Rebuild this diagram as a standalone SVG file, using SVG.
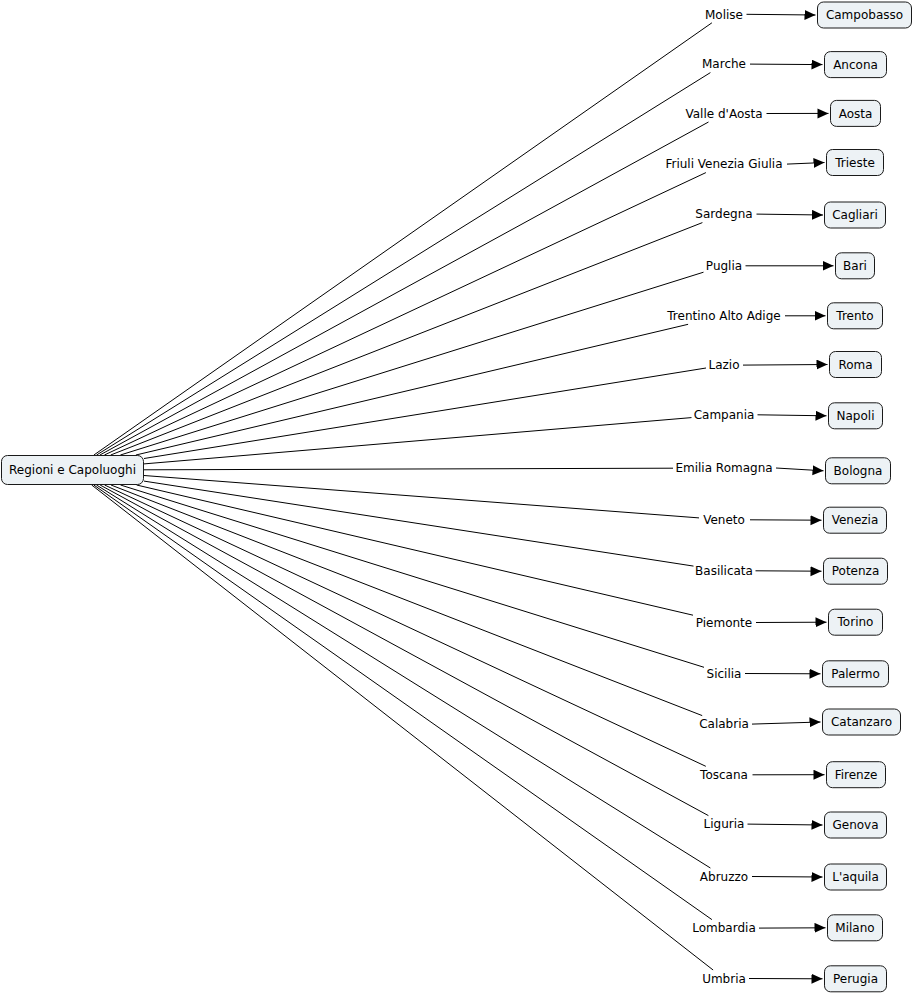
<svg xmlns="http://www.w3.org/2000/svg" width="913" height="994" viewBox="0 0 913 994">
<style>
.bg{fill:#ffffff}
.node rect{fill:#edf2f5;stroke:#1a1a1a;stroke-width:1}
.node text{font-family:"DejaVu Sans",Verdana,sans-serif;font-size:12px;fill:#000;text-anchor:middle}
.lbl{font-family:"DejaVu Sans",Verdana,sans-serif;font-size:12px;fill:#000;text-anchor:middle}
.ln{stroke:#000;stroke-width:1;fill:none}
.ar{stroke:#000;stroke-width:1;fill:none;marker-end:url(#ah)}
</style>
<defs>
<marker id="ah" markerUnits="userSpaceOnUse" markerWidth="12" markerHeight="11" refX="11" refY="5" orient="auto">
<path d="M0,0 L11,5 L0,10 z" fill="#000"/>
</marker>
</defs>
<rect class="bg" x="0" y="0" width="913" height="994"/>
<g id="connectors">
<line class="ln" x1="93.9" y1="455" x2="711.9" y2="22.8"/>
<line class="ln" x1="96.6" y1="455" x2="710.4" y2="72.6"/>
<line class="ln" x1="99.9" y1="455" x2="708.5" y2="122"/>
<line class="ln" x1="104.4" y1="455" x2="705.9" y2="172.6"/>
<line class="ln" x1="110.7" y1="455" x2="702.4" y2="222.6"/>
<line class="ln" x1="120.4" y1="455" x2="703.5" y2="272.2"/>
<line class="ln" x1="135.9" y1="455" x2="688.1" y2="324.3"/>
<line class="ln" x1="144" y1="458.5" x2="706" y2="368"/>
<line class="ln" x1="144" y1="463.9" x2="691.5" y2="417.6"/>
<line class="ln" x1="144" y1="469.8" x2="673" y2="468.2"/>
<line class="ln" x1="144" y1="475.5" x2="699" y2="517.9"/>
<line class="ln" x1="144" y1="481.1" x2="693.5" y2="566.1"/>
<line class="ln" x1="136.6" y1="485" x2="693" y2="615.2"/>
<line class="ln" x1="120.5" y1="485" x2="704" y2="667.3"/>
<line class="ln" x1="111" y1="485" x2="702.2" y2="715.6"/>
<line class="ln" x1="104.6" y1="485" x2="705.8" y2="766.3"/>
<line class="ln" x1="100.1" y1="485" x2="708.4" y2="815.6"/>
<line class="ln" x1="96.5" y1="485" x2="710.4" y2="868"/>
<line class="ln" x1="93.8" y1="485" x2="711.9" y2="919.6"/>
<line class="ln" x1="91.7" y1="485" x2="713.1" y2="970"/>
<line class="ar" x1="746.5" y1="14.3" x2="815.5" y2="15"/>
<line class="ar" x1="750" y1="64.1" x2="822.5" y2="64.6"/>
<line class="ar" x1="766.5" y1="113.5" x2="828.5" y2="113.4"/>
<line class="ar" x1="787" y1="164.1" x2="824.5" y2="162.5"/>
<line class="ar" x1="756.5" y1="214.1" x2="823" y2="215"/>
<line class="ar" x1="745.5" y1="265.8" x2="833.5" y2="265.8"/>
<line class="ar" x1="785" y1="315.8" x2="825.5" y2="315.8"/>
<line class="ar" x1="743" y1="365.1" x2="827.5" y2="364.5"/>
<line class="ar" x1="757.5" y1="414.8" x2="826.5" y2="415.8"/>
<line class="ar" x1="776" y1="468" x2="823.5" y2="470.8"/>
<line class="ar" x1="750" y1="519.8" x2="821.5" y2="520.2"/>
<line class="ar" x1="755.5" y1="570.8" x2="821.5" y2="571.2"/>
<line class="ar" x1="756" y1="622.5" x2="826.5" y2="622.2"/>
<line class="ar" x1="745" y1="673.5" x2="820.5" y2="673.8"/>
<line class="ar" x1="752" y1="724.1" x2="820.5" y2="722"/>
<line class="ar" x1="752.5" y1="774.8" x2="824.5" y2="774.7"/>
<line class="ar" x1="747.5" y1="824.1" x2="822.5" y2="825"/>
<line class="ar" x1="752" y1="876.5" x2="822.5" y2="877"/>
<line class="ar" x1="759" y1="928.1" x2="825.5" y2="927.8"/>
<line class="ar" x1="749" y1="978.5" x2="822.5" y2="978.8"/>
</g>
<g id="labels">
<text class="lbl" x="724" y="18.5">Molise</text>
<text class="lbl" x="724" y="68.3">Marche</text>
<text class="lbl" x="724" y="117.7">Valle d'Aosta</text>
<text class="lbl" x="724" y="168.3">Friuli Venezia Giulia</text>
<text class="lbl" x="724" y="218.3">Sardegna</text>
<text class="lbl" x="724" y="270">Puglia</text>
<text class="lbl" x="724" y="320">Trentino Alto Adige</text>
<text class="lbl" x="724" y="369.3">Lazio</text>
<text class="lbl" x="724" y="419">Campania</text>
<text class="lbl" x="724" y="472.2">Emilia Romagna</text>
<text class="lbl" x="724" y="524">Veneto</text>
<text class="lbl" x="724" y="575">Basilicata</text>
<text class="lbl" x="724" y="626.7">Piemonte</text>
<text class="lbl" x="724" y="677.7">Sicilia</text>
<text class="lbl" x="724" y="728.3">Calabria</text>
<text class="lbl" x="724" y="779">Toscana</text>
<text class="lbl" x="724" y="828.3">Liguria</text>
<text class="lbl" x="724" y="880.7">Abruzzo</text>
<text class="lbl" x="724" y="932.3">Lombardia</text>
<text class="lbl" x="724" y="982.7">Umbria</text>
</g>
<g id="root" class="node"><rect x="1.5" y="455.5" width="142" height="29" rx="6"/><text x="72.5" y="474.3">Regioni e Capoluoghi</text></g>
<g id="n-campobasso" class="node"><rect x="817.5" y="2" width="94" height="26" rx="6"/><text x="864.5" y="19.2">Campobasso</text></g>
<g id="n-ancona" class="node"><rect x="824.5" y="51.6" width="62" height="26" rx="6"/><text x="855.5" y="68.8">Ancona</text></g>
<g id="n-aosta" class="node"><rect x="830.5" y="100.4" width="50" height="26" rx="6"/><text x="855.5" y="117.6">Aosta</text></g>
<g id="n-trieste" class="node"><rect x="826.5" y="149.5" width="57" height="26" rx="6"/><text x="855" y="166.7">Trieste</text></g>
<g id="n-cagliari" class="node"><rect x="824.5" y="202" width="61" height="26" rx="6"/><text x="855" y="219.2">Cagliari</text></g>
<g id="n-bari" class="node"><rect x="835.5" y="252.8" width="39" height="26" rx="6"/><text x="855" y="270">Bari</text></g>
<g id="n-trento" class="node"><rect x="827.5" y="302.8" width="55" height="26" rx="6"/><text x="855" y="320">Trento</text></g>
<g id="n-roma" class="node"><rect x="829.5" y="351.5" width="52" height="26" rx="6"/><text x="855.5" y="368.7">Roma</text></g>
<g id="n-napoli" class="node"><rect x="828.5" y="402.8" width="54" height="26" rx="6"/><text x="855.5" y="420">Napoli</text></g>
<g id="n-bologna" class="node"><rect x="825.5" y="457.8" width="65" height="26" rx="6"/><text x="858" y="475">Bologna</text></g>
<g id="n-venezia" class="node"><rect x="823.5" y="507.2" width="63" height="26" rx="6"/><text x="855" y="524.4">Venezia</text></g>
<g id="n-potenza" class="node"><rect x="823.5" y="558.2" width="64" height="26" rx="6"/><text x="855.5" y="575.4">Potenza</text></g>
<g id="n-torino" class="node"><rect x="828.5" y="609.2" width="54" height="26" rx="6"/><text x="855.5" y="626.4">Torino</text></g>
<g id="n-palermo" class="node"><rect x="822.5" y="660.8" width="66" height="26" rx="6"/><text x="855.5" y="678">Palermo</text></g>
<g id="n-catanzaro" class="node"><rect x="822.5" y="709" width="78" height="26" rx="6"/><text x="861.5" y="726.2">Catanzaro</text></g>
<g id="n-firenze" class="node"><rect x="826.5" y="761.7" width="59" height="26" rx="6"/><text x="856" y="778.9">Firenze</text></g>
<g id="n-genova" class="node"><rect x="824.5" y="812" width="62" height="26" rx="6"/><text x="855.5" y="829.2">Genova</text></g>
<g id="n-laquila" class="node"><rect x="824.5" y="864" width="62" height="26" rx="6"/><text x="855.5" y="881.2">L'aquila</text></g>
<g id="n-milano" class="node"><rect x="827.5" y="914.8" width="55" height="26" rx="6"/><text x="855" y="932">Milano</text></g>
<g id="n-perugia" class="node"><rect x="824.5" y="965.8" width="62" height="26" rx="6"/><text x="855.5" y="983">Perugia</text></g>
</svg>
